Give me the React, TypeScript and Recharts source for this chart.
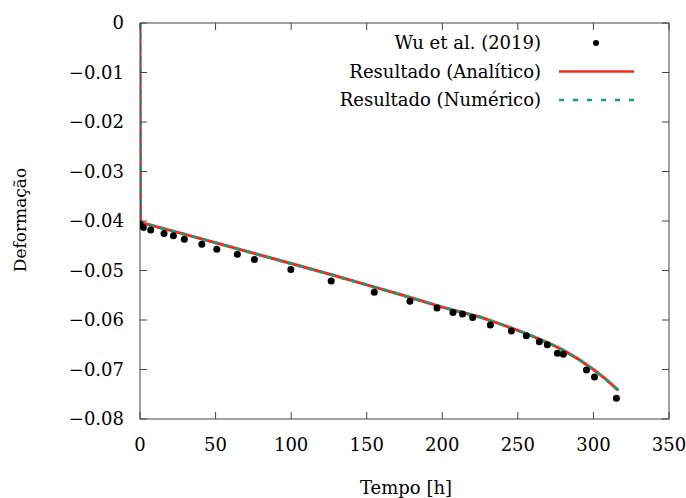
import React from 'react'
import { ComposedChart, Line, Scatter, XAxis, YAxis } from 'recharts'

// Wu et al. (2019) — pontos experimentais
const expTempo = [0, 2.2, 7.1, 15.9, 22.1, 29.3, 40.9, 50.8, 64.4, 75.7, 99.8, 126.5, 155, 178.6, 196.5, 207.1, 213.4, 220.1, 231.8, 245.7, 255.6, 264.2, 269.5, 276.2, 280.1, 295.4, 300.7, 315.2]
const expDef = [-0.0406, -0.0413, -0.0418, -0.0425, -0.043, -0.0437, -0.0447, -0.0457, -0.0467, -0.0478, -0.0498, -0.0521, -0.0544, -0.0562, -0.0576, -0.0585, -0.0588, -0.0595, -0.061, -0.0622, -0.0632, -0.0644, -0.065, -0.0667, -0.0669, -0.0701, -0.0715, -0.0758]

// Resultado (analítico / numérico) — mesma curva
const modTempo = [0, 0.3, 25, 50, 75, 100, 125, 150, 175, 200, 225, 240, 250, 260, 270, 280, 290, 300, 308, 316.5]
const modDef = [0, -0.0403, -0.0423, -0.0444, -0.0465, -0.0486, -0.0507, -0.0529, -0.0551, -0.0574, -0.0594, -0.061, -0.0621, -0.0633, -0.0646, -0.0661, -0.0679, -0.07, -0.0719, -0.0742]

const xTicks = [0, 50, 100, 150, 200, 250, 300, 350]
const yTicks = [0, -0.01, -0.02, -0.03, -0.04, -0.05, -0.06, -0.07, -0.08]

const expData = expTempo.map((t, i) => ({ t, d: expDef[i] }))
const modData = modTempo.map((t, i) => ({ t, d: modDef[i] }))

const FONT = '"DejaVu Serif", serif'
const FS = 18
const AXIS = '#444'
const RED = '#f5281e'
const GREEN = '#10a07a'

const fmtY = (v: number) => (v === 0 ? '0' : '\u2212' + Math.abs(v).toFixed(2))

const BottomTick = ({ x, y, payload }: any) => (
  <g>
    <line x1={x} y1={y} x2={x} y2={y - 7} stroke={AXIS} />
    <text x={x} y={y + 32} textAnchor="middle" fontFamily={FONT} fontSize={FS} fill="#000">
      {payload.value}
    </text>
  </g>
)
const TopTick = ({ x, y }: any) => <line x1={x} y1={y} x2={x} y2={y + 7} stroke={AXIS} />
const LeftTick = ({ x, y, payload }: any) => (
  <g>
    <line x1={x} y1={y} x2={x + 7} y2={y} stroke={AXIS} />
    <text x={x - 16} y={y + 6} textAnchor="end" fontFamily={FONT} fontSize={FS} fill="#000">
      {fmtY(payload.value)}
    </text>
  </g>
)
const RightTick = ({ x, y }: any) => <line x1={x} y1={y} x2={x - 7} y2={y} stroke={AXIS} />

const Dot = (p: any) => <circle cx={p.cx} cy={p.cy} r={3.5} fill="#000" />

const legendRows = [
  { label: 'Wu et al. (2019)', kind: 'dot' },
  { label: 'Resultado (Analítico)', kind: 'red' },
  { label: 'Resultado (Numérico)', kind: 'green' },
]

const LegendBox = () => (
  <g>
    {legendRows.map((r, i) => {
      const y = 43 + i * 28.5
      return (
        <g key={r.label}>
          <text x={541} y={y + 6} textAnchor="end" fontFamily={FONT} fontSize={FS} fill="#000">
            {r.label}
          </text>
          {r.kind === 'dot' && <circle cx={596} cy={y} r={3} fill="#000" />}
          {r.kind === 'red' && <line x1={559} x2={634} y1={y} y2={y} stroke={RED} strokeWidth={2.5} />}
          {r.kind === 'green' && (
            <line x1={559} x2={634} y1={y} y2={y} stroke={GREEN} strokeWidth={2.5} strokeDasharray="5 9" />
          )}
        </g>
      )
    })}
  </g>
)

export default function App() {
  return (
    <div style={{ position: 'absolute', left: 0, top: 0, background: '#fff' }}>
      <ComposedChart width={686} height={498} margin={{ top: 22, right: 16, bottom: 78, left: 139 }}>
        <XAxis
          xAxisId="b" dataKey="t" type="number" domain={[0, 350]} ticks={xTicks}
          height={1} tickSize={0} tickMargin={0} tickLine={false} tick={<BottomTick />}
          axisLine={{ stroke: AXIS }} interval={0} allowDataOverflow
        />
        <XAxis
          xAxisId="tp" orientation="top" dataKey="t" type="number" domain={[0, 350]} ticks={xTicks}
          height={1} tickSize={0} tickMargin={0} tickLine={false} tick={<TopTick />}
          axisLine={{ stroke: AXIS }} interval={0} allowDataOverflow
        />
        <YAxis
          yAxisId="l" dataKey="d" type="number" domain={[-0.08, 0]} ticks={yTicks}
          width={1} tickSize={0} tickMargin={0} tickLine={false} tick={<LeftTick />}
          axisLine={{ stroke: AXIS }} interval={0} allowDataOverflow
        />
        <YAxis
          yAxisId="r" orientation="right" dataKey="d" type="number" domain={[-0.08, 0]} ticks={yTicks}
          width={1} tickSize={0} tickMargin={0} tickLine={false} tick={<RightTick />}
          axisLine={{ stroke: AXIS }} interval={0} allowDataOverflow
        />
        <Scatter xAxisId="b" yAxisId="l" data={expData} dataKey="d" shape={<Dot />} isAnimationActive={false} />
        <Line xAxisId="b" yAxisId="l" data={modData} dataKey="d" type="linear" stroke={RED} strokeWidth={3} dot={false} isAnimationActive={false} />
        <Line xAxisId="tp" yAxisId="r" data={modData} dataKey="d" type="linear" stroke={GREEN} strokeWidth={3} strokeDasharray="5 6" dot={false} isAnimationActive={false} />
        <LegendBox />
        <text x={406} y={494} textAnchor="middle" fontFamily={FONT} fontSize={FS} fill="#000">
          Tempo [h]
        </text>
        <text
          x={26} y={220} textAnchor="middle" fontFamily={FONT} fontSize={17} fill="#000"
          transform="rotate(-90 26 220)"
        >
          Deformação
        </text>
      </ComposedChart>
    </div>
  )
}
